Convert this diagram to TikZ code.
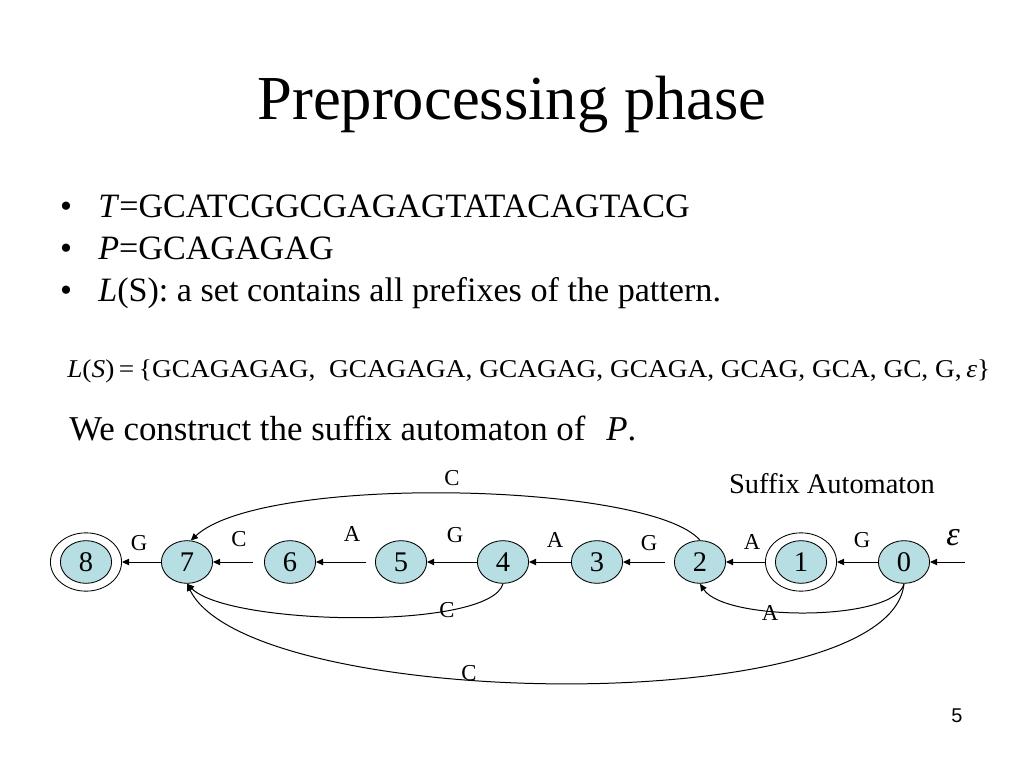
\documentclass[tikz,border=0pt]{standalone}
\usepackage{fontspec}
\setmainfont{Liberation Serif}
\newfontfamily\sansfont{Liberation Sans}
\usepackage{graphicx}
\usetikzlibrary{arrows.meta, shapes.geometric}
\definecolor{StateBlue}{HTML}{B7DEE2}

\begin{document}
\begin{tikzpicture}[x=0.703125pt, y=-0.703125pt,
    state/.style={ellipse, draw, line width=0.6pt, fill=StateBlue, minimum width=36pt, minimum height=30pt, inner sep=0pt, font=\fontsize{20}{24}\selectfont},
    ring/.style={ellipse, draw, line width=0.6pt, minimum width=50pt, minimum height=41pt, inner sep=0pt},
    trans/.style={-{Triangle[length=5pt,width=4.5pt]}, line width=0.7pt},
    lbl/.style={font=\fontsize{16}{18}\selectfont, inner sep=0pt},
    bul/.style={font=\fontsize{24}{28}\selectfont, anchor=base west, inner sep=0pt},
    dot/.style={font=\fontsize{24}{28}\selectfont, anchor=base, inner sep=0pt}]
    \useasboundingbox (0,0) rectangle (1024,768);

    % --- Title and bullets ---
    \node[font=\fontsize{44}{50}\selectfont, anchor=base] (title) at (512,120) {Preprocessing phase};
    \node[dot] (d1) at (66,218) {•};
    \node[bul] (b1) at (98,218) {\textit{T}=GCATCGGCGAGAGTATACAGTACG};
    \node[dot] (d2) at (66,260) {•};
    \node[bul] (b2) at (98,260) {\textit{P}=GCAGAGAG};
    \node[dot] (d3) at (66,302) {•};
    \node[bul] (b3) at (98,302) {\textit{L}(S): a set contains all prefixes of the pattern.};

    % prefix set
    \node[anchor=base west, inner sep=0pt, font=\fontsize{18}{22}\selectfont] (ls) at (67,377)
        {\resizebox{649pt}{\height}{\textit{L}(\textit{S})\,=\,\{GCAGAGAG,\ \ GCAGAGA, GCAGAG, GCAGA, GCAG, GCA, GC, G,\,\textit{ε}\}}};
    \node[bul, font=\fontsize{24.5}{28}\selectfont] (wc) at (69,440) {We construct the suffix automaton of\hspace{0.35em} \textit{P}.};

    % --- Automaton ---
    \node[font=\fontsize{20}{24}\selectfont, anchor=base] (sa) at (832,493) {Suffix Automaton};

    \foreach \n/\x in {8/86, 7/187, 6/290, 5/401, 4/503, 3/597, 2/700, 1/801, 0/904}
        \node[state] (n\n) at (\x,562) {\n};
    \node[ring] (o8) at (n8) {};
    \node[ring] (o1) at (n1) {};

    \coordinate (init) at (965,562);
    \draw[trans] (init) -- (n0);
    \draw[trans] (n0) -- (o1);
    \draw[trans] (o1) -- (n2);
    \draw[trans, shorten <=6pt] (n2) -- (n3);
    \draw[trans] (n3) -- (n4);
    \draw[trans] (n4) -- (n5);
    \draw[trans, shorten <=6pt] (n5) -- (n6);
    \draw[trans, shorten <=7.5pt] (n6) -- (n7);
    \draw[trans] (n7) -- (o8);

    \node[font=\fontsize{24}{28}\selectfont, inner sep=0pt] (eps) at (953,538) {\textit{ε}};
    \node[lbl] (l01) at (862,540) {G};
    \node[lbl] (l12) at (752,542) {A};
    \node[lbl] (l23) at (649,543) {G};
    \node[lbl] (l34) at (555,540) {A};
    \node[lbl] (l45) at (455,535) {G};
    \node[lbl] (l56) at (352,534) {A};
    \node[lbl] (l67) at (239,539) {C};
    \node[lbl] (l78) at (139,543) {G};

    % back edges
    \draw[trans] (n2.north) .. controls +(-50,-58) and +(72,-67) .. (n7.80);
    \draw[trans] (n4.south) .. controls +(-13,47) and +(42,42) .. (n7.south);
    \draw[trans] (n0.south) .. controls +(-9,38) and +(25,38) .. (n2.south);
    \draw[trans] (n0.south) .. controls +(-14,137) and +(62,128) .. (n7.south);

    \node[lbl] (l27) at (452,478) {C};
    \node[lbl] (l47) at (447,610) {C};
    \node[lbl] (l02) at (770,613) {A};
    \node[lbl] (l07) at (469,673) {C};

    \node[font=\sansfont\fontsize{14}{16}\selectfont, inner sep=0pt] (page) at (957,716) {5};
\end{tikzpicture}
\end{document}
